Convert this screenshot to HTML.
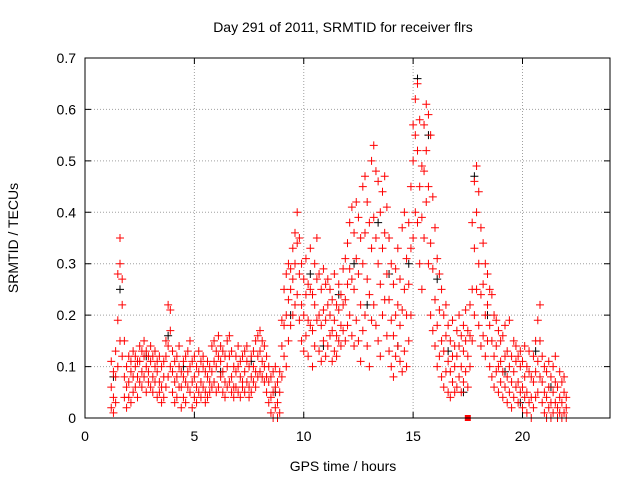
<!DOCTYPE html>
<html><head><meta charset="utf-8">
<style>
html,body{margin:0;padding:0;background:#fff;}
svg{display:block;font-family:"Liberation Sans",sans-serif;}
</style></head>
<body>
<svg id="chart" width="640" height="480" viewBox="0 0 640 480" xmlns="http://www.w3.org/2000/svg">
<rect width="640" height="480" fill="#fff"/>
<text x="343" y="32" text-anchor="middle" font-size="14">Day 291 of 2011, SRMTID for receiver flrs</text>
<text transform="translate(18,238) rotate(-90)" text-anchor="middle" font-size="14">SRMTID / TECUs</text>
<text x="343" y="471" text-anchor="middle" font-size="14">GPS time / hours</text>
<g id="grid"></g>
<g id="ticks"></g>
<g id="black"></g>
<g id="red"></g>
<rect x="85" y="58" width="525" height="360" fill="none" stroke="#000" stroke-width="1"/>
</svg>
<script>
const xTicks=[0,5,10,15,20];
const yTicks=[0,0.1,0.2,0.3,0.4,0.5,0.6,0.7];
const yTickLabels=["0","0.1","0.2","0.3","0.4","0.5","0.6","0.7"];
const redSeries=[
[1.2,[.02,.06,.11]],[1.3,[.01,.04,.09]],[1.4,[.03,.08,.13]],[1.5,[.10,.19,.28]],[1.6,[.15,.30,.35]],[1.7,[.12,.22,.27]],[1.8,[.04,.08,.15]],[1.9,[.02,.06,.10]],
[2.0,[.04,.07,.12]],[2.1,[.03,.09,.11]],[2.2,[.05,.08,.13]],[2.3,[.06,.10,.12]],[2.4,[.04,.08,.11]],[2.5,[.07,.11,.14]],[2.6,[.06,.09,.13]],[2.7,[.08,.12,.15]],[2.8,[.05,.10,.13]],[2.9,[.07,.09,.12]],
[3.0,[.06,.11,.14]],[3.1,[.05,.08,.12]],[3.2,[.07,.10,.13]],[3.3,[.04,.09,.11]],[3.4,[.05,.07,.12]],[3.5,[.03,.06,.10]],[3.6,[.04,.08,.11]],[3.7,[.06,.12,.15]],[3.8,[.08,.14,.22]],[3.9,[.10,.17,.21]],
[4.0,[.05,.09,.13]],[4.1,[.03,.07,.11]],[4.2,[.04,.08,.12]],[4.3,[.06,.10,.14]],[4.4,[.02,.06,.09]],[4.5,[.04,.08,.11]],[4.6,[.03,.07,.12]],[4.7,[.06,.09,.13]],[4.8,[.05,.10,.15]],[4.9,[.02,.07,.11]],
[5.0,[.04,.08,.12]],[5.1,[.03,.06,.10]],[5.2,[.05,.09,.13]],[5.3,[.04,.07,.11]],[5.4,[.06,.10,.12]],[5.5,[.03,.05,.09]],[5.6,[.04,.08,.11]],[5.7,[.05,.07,.10]],[5.8,[.06,.09,.14]],[5.9,[.07,.11,.15]],
[6.0,[.05,.10,.13]],[6.1,[.06,.12,.16]],[6.2,[.08,.11,.14]],[6.3,[.05,.09,.13]],[6.4,[.04,.07,.12]],[6.5,[.06,.10,.15]],[6.6,[.07,.12,.16]],[6.7,[.05,.08,.13]],[6.8,[.04,.06,.10]],[6.9,[.06,.09,.12]],
[7.0,[.05,.10,.14]],[7.1,[.04,.08,.11]],[7.2,[.06,.07,.12]],[7.3,[.05,.09,.13]],[7.4,[.07,.11,.14]],[7.5,[.04,.06,.10]],[7.6,[.05,.08,.12]],[7.7,[.07,.10,.13]],[7.8,[.06,.09,.15]],[7.9,[.08,.12,.16]],
[8.0,[.09,.13,.17]],[8.1,[.08,.11,.15]],[8.2,[.07,.10,.14]],[8.3,[.05,.08,.12]],[8.4,[.03,.07,.10]],[8.5,[.01,.04,.08]],[8.6,[.00,.05,.09]],[8.7,[.02,.06,.10]],[8.8,[.00,.03,.07]],[8.9,[.01,.05,.09]],
[9.0,[.08,.14,.19]],[9.1,[.12,.18,.25]],[9.2,[.10,.20,.28]],[9.3,[.15,.23,.30]],[9.4,[.18,.25,.29]],[9.5,[.20,.27,.33]],[9.6,[.22,.30,.36]],[9.7,[.24,.34,.40]],[9.8,[.19,.28,.35]],[9.9,[.15,.22,.30]],
[10.0,[.13,.20,.27]],[10.1,[.16,.24,.31]],[10.2,[.12,.19,.26]],[10.3,[.18,.25,.33]],[10.4,[.10,.17,.24]],[10.5,[.14,.22,.30]],[10.6,[.19,.27,.35]],[10.7,[.13,.20,.28]],[10.8,[.11,.18,.25]],[10.9,[.15,.21,.29]],
[11.0,[.12,.19,.26]],[11.1,[.14,.22,.27]],[11.2,[.16,.20,.25]],[11.3,[.11,.17,.23]],[11.4,[.13,.19,.28]],[11.5,[.12,.16,.22]],[11.6,[.15,.21,.26]],[11.7,[.14,.18,.24]],[11.8,[.17,.22,.29]],[11.9,[.15,.23,.31]],
[12.0,[.18,.26,.34]],[12.1,[.20,.29,.38]],[12.2,[.16,.27,.41]],[12.3,[.14,.25,.36]],[12.4,[.19,.31,.42]],[12.5,[.15,.28,.39]],[12.6,[.11,.22,.35]],[12.7,[.17,.30,.45]],[12.8,[.20,.36,.47]],[12.9,[.14,.27,.42]],
[13.0,[.10,.24,.38]],[13.1,[.19,.33,.50]],[13.2,[.22,.39,.53]],[13.3,[.18,.35,.48]],[13.4,[.15,.30,.46]],[13.5,[.12,.26,.40]],[13.6,[.20,.33,.44]],[13.7,[.23,.36,.47]],[13.8,[.16,.28,.41]],[13.9,[.13,.23,.35]],
[14.0,[.10,.19,.30]],[14.1,[.08,.16,.26]],[14.2,[.12,.20,.29]],[14.3,[.14,.22,.33]],[14.4,[.11,.18,.27]],[14.5,[.09,.21,.37]],[14.6,[.13,.25,.40]],[14.7,[.10,.20,.31]],[14.8,[.15,.26,.38]],[14.9,[.20,.33,.45]],
[15.0,[.35,.50,.57]],[15.1,[.40,.55,.62]],[15.2,[.38,.52,.65]],[15.3,[.30,.45,.58]],[15.4,[.25,.39,.49]],[15.5,[.35,.48,.57]],[15.6,[.42,.52,.61]],[15.7,[.30,.45,.59]],[15.8,[.20,.34,.55]],[15.9,[.17,.29,.43]],
[16.0,[.14,.23,.37]],[16.1,[.10,.18,.31]],[16.2,[.12,.21,.28]],[16.3,[.08,.15,.25]],[16.4,[.06,.13,.20]],[16.5,[.09,.16,.22]],[16.6,[.05,.11,.18]],[16.7,[.04,.09,.15]],[16.8,[.07,.12,.19]],[16.9,[.05,.10,.14]],
[17.0,[.06,.12,.17]],[17.1,[.08,.14,.20]],[17.2,[.05,.10,.16]],[17.3,[.07,.13,.18]],[17.4,[.09,.15,.21]],[17.5,[.06,.12,.17]],[17.6,[.10,.16,.22]],[17.7,[.15,.25,.38]],[17.8,[.20,.33,.46]],[17.9,[.25,.40,.49]],
[18.0,[.18,.30,.44]],[18.1,[.14,.24,.37]],[18.2,[.16,.26,.34]],[18.3,[.12,.20,.30]],[18.4,[.15,.22,.28]],[18.5,[.10,.18,.25]],[18.6,[.08,.15,.24]],[18.7,[.06,.12,.20]],[18.8,[.09,.14,.19]],[18.9,[.05,.10,.17]],
[19.0,[.07,.11,.15]],[19.1,[.04,.09,.16]],[19.2,[.06,.12,.18]],[19.3,[.03,.08,.13]],[19.4,[.05,.10,.19]],[19.5,[.02,.07,.12]],[19.6,[.04,.09,.15]],[19.7,[.06,.11,.14]],[19.8,[.03,.07,.12]],[19.9,[.05,.10,.13]],
[20.0,[.02,.06,.11]],[20.1,[.04,.08,.14]],[20.2,[.01,.05,.10]],[20.3,[.03,.09,.13]],[20.4,[.00,.04,.08]],[20.5,[.02,.07,.12]],[20.6,[.04,.09,.15]],[20.7,[.05,.11,.19]],[20.8,[.08,.15,.22]],[20.9,[.03,.07,.12]],
[21.0,[.01,.05,.10]],[21.1,[.00,.04,.09]],[21.2,[.02,.06,.11]],[21.3,[.00,.03,.08]],[21.4,[.01,.05,.10]],[21.5,[.03,.07,.12]],[21.6,[.00,.02,.06]],[21.7,[.01,.04,.09]],[21.8,[.00,.03,.07]],[21.9,[.01,.05,.08]],[22.0,[.00,.02,.04]]
];
const blackTimes=[1.3,1.6,2.8,3.8,4.5,6.2,7.6,8.7,9.4,10.3,10.9,11.6,12.3,12.9,13.4,13.9,14.3,14.8,15.2,15.7,16.1,16.6,17.3,17.8,18.4,19.2,19.9,20.6,21.3];
const blackValues=[.08,.25,.12,.16,.10,.09,.11,.05,.20,.28,.14,.24,.30,.22,.38,.28,.14,.30,.66,.55,.27,.13,.05,.47,.20,.09,.03,.13,.06];
const squareT=[17.5];
const squareV=[0];

const NS="http://www.w3.org/2000/svg";
const X0=85,X1=610,Y0=418,Y1=58,XMAX=24,YMAX=0.7;
const xs=t=>X0+(X1-X0)*t/XMAX;
const ys=v=>Y0-(Y0-Y1)*v/YMAX;
function mk(tag,attrs,parent){const e=document.createElementNS(NS,tag);for(const k in attrs)e.setAttribute(k,attrs[k]);parent.appendChild(e);return e;}
const grid=document.getElementById('grid'),ticks=document.getElementById('ticks');
xTicks.forEach(t=>{
  const x=xs(t);
  if(t>0){const g=mk('line',{x1:x,y1:Y0,x2:x,y2:Y1,stroke:'#a0a0a0','stroke-dasharray':'1,2'},grid);
  
  }
  const tk=mk('path',{d:`M${x},${Y0}v-6M${x},${Y1}v6`,stroke:'#000'},ticks);
  
  
  const l=mk('text',{x:x,y:Y0+23,'text-anchor':'middle','font-size':14},ticks);l.textContent=String(t);
  
  
});
yTicks.forEach((v,i)=>{
  const y=ys(v);
  if(v>0&&v<YMAX){const g=mk('line',{x1:X0,y1:y,x2:X1,y2:y,stroke:'#a0a0a0','stroke-dasharray':'1,2'},grid);
  
  }
  const tk=mk('path',{d:`M${X0},${y}h6M${X1},${y}h-6`,stroke:'#000'},ticks);
  
  
  const l=mk('text',{x:X0-9,y:y+5,'text-anchor':'end','font-size':14},ticks);l.textContent=yTickLabels[i];
  
  
});
function cross(parent,t,v,color){
  const x=xs(t),y=ys(v);
  const p=mk('path',{d:`M${x-4},${y}h8M${x},${y-4}v8`,stroke:color,'stroke-width':1},parent);
  
  
}
const black=document.getElementById('black'),red=document.getElementById('red');
blackTimes.forEach((t,i)=>cross(black,t,blackValues[i],'#000'));
redSeries.forEach(r=>r[1].forEach(v=>cross(red,r[0],v,'#ff0000')));
squareT.forEach((t,i)=>{
  const s=mk('rect',{x:xs(t)-3,y:ys(squareV[i])-3,width:6,height:6,fill:'#ff0000'},red);
  
  
});
</script>
</body></html>
